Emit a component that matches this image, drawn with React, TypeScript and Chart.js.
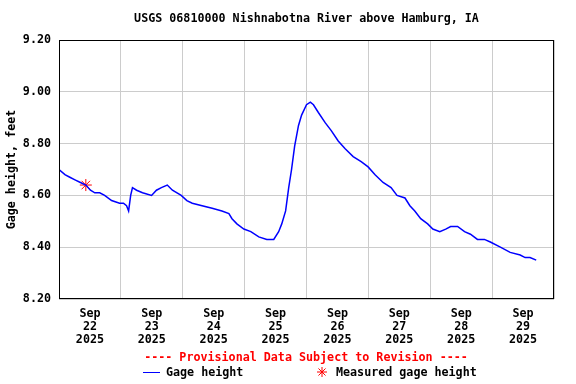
import React, { useEffect, useRef } from "react";
import { Chart, registerables } from "chart.js";

Chart.register(...registerables);

const TITLE = "USGS 06810000 Nishnabotna River above Hamburg, IA";
const Y_TITLE = "Gage height, feet";
const PROVISIONAL = "---- Provisional Data Subject to Revision ----";
const LEGEND_GAGE = "Gage height";
const LEGEND_MEASURED = "Measured gage height";

// hours since Sep 22 2025 00:00
const hours = [
  0, 2.3, 4.2, 6.2, 8.3, 10.4, 12.2, 13.9, 15.8, 17.7, 20.4, 23.5, 25.0, 26.2, 27.0,
  27.8, 28.5, 30.1, 32.4, 35.9, 37.8, 39.7, 42.0, 44.0, 47.4, 49.6, 51.7, 55.5, 59.4,
  63.2, 65.9, 67.1, 69.0, 71.7, 74.4, 77.5, 80.6, 83.3, 85.2, 86.4, 87.9, 88.7, 89.1,
  90.2, 91.4, 92.9, 94.1, 96.0, 97.5, 98.7, 100.6, 103.3, 105.6, 108.3, 111.0, 114.1,
  117.2, 119.9, 122.6, 125.7, 128.8, 131.1, 134.2, 136.1, 138.0, 140.3, 143.0, 145.0,
  147.7, 150.0, 151.9, 154.6, 157.3, 159.6, 162.3, 165.0, 167.3, 171.2, 175.0, 178.9,
  180.8, 182.7, 185.1,
];
const gage = [
  8.70, 8.68, 8.67, 8.66, 8.65, 8.64, 8.62, 8.61, 8.61, 8.60, 8.58, 8.57, 8.57, 8.56, 8.54,
  8.60, 8.63, 8.62, 8.61, 8.60, 8.62, 8.63, 8.64, 8.62, 8.60, 8.58, 8.57, 8.56, 8.55,
  8.54, 8.53, 8.51, 8.49, 8.47, 8.46, 8.44, 8.43, 8.43, 8.46, 8.49, 8.54, 8.60, 8.63,
  8.70, 8.79, 8.87, 8.91, 8.95, 8.96, 8.95, 8.92, 8.88, 8.85, 8.81, 8.78, 8.75,
  8.73, 8.71, 8.68, 8.65, 8.63, 8.60, 8.59, 8.56, 8.54, 8.51, 8.49, 8.47,
  8.46, 8.47, 8.48, 8.48, 8.46, 8.45, 8.43, 8.43, 8.42, 8.40, 8.38, 8.37,
  8.36, 8.36, 8.35,
];
const measuredHours = [10.4];
const measuredValues = [8.64];

const dayLabels = ["22", "23", "24", "25", "26", "27", "28", "29"];
const monthLabel = "Sep";
const yearLabel = "2025";
const yTickValues = [8.2, 8.4, 8.6, 8.8, 9.0, 9.2];

const FONT = "'DejaVu Sans Mono', 'Liberation Mono', monospace";

export default function App() {
  const ref = useRef<HTMLCanvasElement | null>(null);
  useEffect(() => {
    const canvas = ref.current;
    if (!canvas) return;
    const frame = {
      id: "frame",
      afterDraw(chart: any) {
        const { ctx, chartArea } = chart;
        ctx.save();
        ctx.strokeStyle = "#000";
        ctx.lineWidth = 1;
        ctx.strokeRect(chartArea.left + 0.5, chartArea.top + 0.5, chartArea.right - chartArea.left - 1, chartArea.bottom - chartArea.top - 1);
        ctx.fillStyle = "#000";
        ctx.font = `bold 11.7px ${FONT}`;
        ctx.textAlign = "center";
        ctx.textBaseline = "middle";
        ctx.fillText(TITLE, (chartArea.left + chartArea.right) / 2, 19);
        ctx.save();
        ctx.translate(12, (chartArea.top + chartArea.bottom) / 2);
        ctx.rotate(-Math.PI / 2);
        ctx.fillText(Y_TITLE, 0, 0);
        ctx.restore();
        ctx.fillStyle = "#ff0000";
        ctx.fillText(PROVISIONAL, 306, 358);
        ctx.textAlign = "left";
        ctx.fillStyle = "#000";
        ctx.fillText(LEGEND_GAGE, 166, 373);
        ctx.fillText(LEGEND_MEASURED, 336, 373);
        ctx.strokeStyle = "#0000ff";
        ctx.beginPath();
        ctx.moveTo(143, 372.5);
        ctx.lineTo(160, 372.5);
        ctx.stroke();
        ctx.strokeStyle = "#ff0000";
        const cx = 322, cy = 372, r = 5;
        ctx.beginPath();
        for (let i = 0; i < 4; i++) {
          const a = (i * Math.PI) / 4;
          ctx.moveTo(cx - r * Math.cos(a), cy - r * Math.sin(a));
          ctx.lineTo(cx + r * Math.cos(a), cy + r * Math.sin(a));
        }
        ctx.stroke();
        ctx.restore();
      },
    };
    const chart = new Chart(canvas, {
      type: "line",
      data: {
        datasets: [
          {
            label: LEGEND_GAGE,
            data: hours.map((h, i) => ({ x: h, y: gage[i] })),
            borderColor: "#0000ff",
            borderWidth: 1.5,
            pointRadius: 0,
            tension: 0,
          },
          {
            label: LEGEND_MEASURED,
            type: "scatter",
            data: measuredHours.map((h, i) => ({ x: h, y: measuredValues[i] })),
            borderColor: "#ff0000",
            backgroundColor: "#ff0000",
            pointStyle: "star",
            pointRadius: 6,
            borderWidth: 1,
            showLine: false,
          } as any,
        ],
      },
      options: {
        animation: false,
        responsive: false,
        layout: { padding: { left: 0, right: 22, top: 40, bottom: 0 } },
        plugins: { legend: { display: false }, title: { display: false }, tooltip: { enabled: false } },
        scales: {
          x: {
            type: "linear",
            min: 0,
            max: 192,
            border: { display: false },
            afterFit(scale: any) {
              scale.height = 85;
            },
            afterBuildTicks(scale: any) {
              const t = [];
              for (let v = 0; v <= 192; v += 12) t.push({ value: v });
              scale.ticks = t;
            },
            grid: {
              drawTicks: false,
              color: (c: any) => (c.tick && c.tick.value % 24 === 0 ? "#cccccc" : "rgba(0,0,0,0)"),
              lineWidth: 1,
            },
            ticks: {
              autoSkip: false,
              maxRotation: 0,
              padding: 9,
              color: "#000",
              font: { family: FONT, size: 11.7, weight: "bold", lineHeight: 1.1 },
              callback: (v: any) => {
                const n = Number(v);
                if (n % 24 !== 12) return "";
                const d = dayLabels[Math.floor(n / 24)];
                return d ? [monthLabel, d, yearLabel] : "";
              },
            },
          },
          y: {
            min: 8.2,
            max: 9.2,
            border: { display: false },
            afterFit(scale: any) {
              scale.width = 59;
            },
            afterBuildTicks(scale: any) {
              scale.ticks = yTickValues.map((v) => ({ value: v }));
            },
            grid: { drawTicks: false, color: "#cccccc", lineWidth: 1 },
            ticks: {
              padding: 8,
              color: "#000",
              font: { family: FONT, size: 11.7, weight: "bold" },
              callback: (v: any) => Number(v).toFixed(2),
            },
          },
        },
      },
      plugins: [frame],
    } as any);
    return () => chart.destroy();
  }, []);
  return (
    <div style={{ position: "fixed", left: 0, top: 0, width: 576, height: 384, background: "#fff" }}>
      <canvas ref={ref} width={576} height={384} style={{ display: "block" }} />
    </div>
  );
}
